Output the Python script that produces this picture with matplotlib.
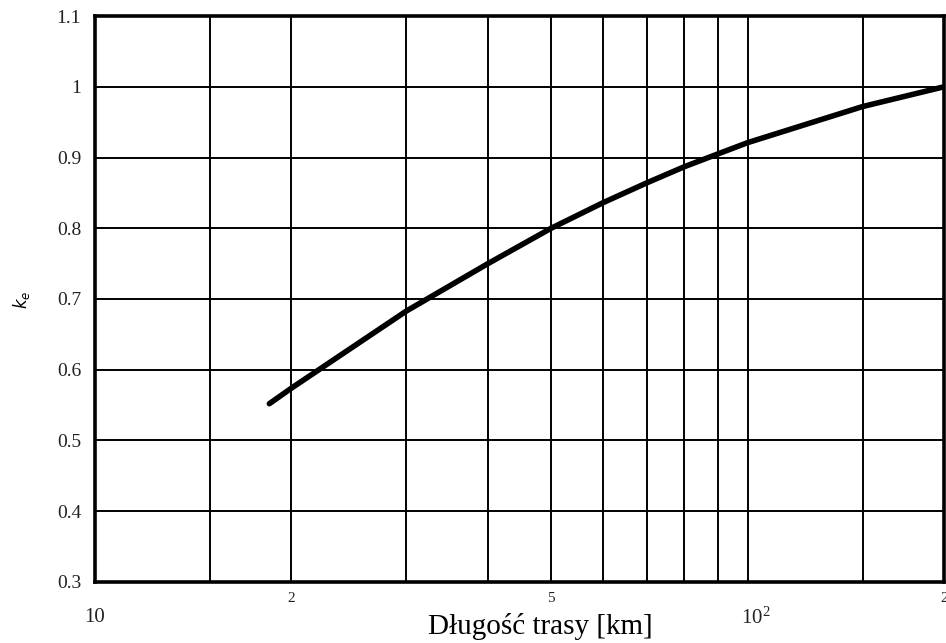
import matplotlib
matplotlib.use("Agg")
import matplotlib.pyplot as plt
import matplotlib.transforms as mtransforms

# Data
dist_km = [18.5, 20, 25, 30, 40, 50, 60, 70, 80, 90, 100, 150, 200]
ke = [0.552, 0.574, 0.634, 0.683, 0.750, 0.800, 0.836, 0.864, 0.887, 0.905, 0.921, 0.972, 1.000]

grid_x = [15, 20, 30, 40, 50, 60, 70, 80, 90, 100, 150, 200]
y_ticks = [0.3, 0.4, 0.5, 0.6, 0.7, 0.8, 0.9, 1.0, 1.1]
y_labels = ["0.3", "0.4", "0.5", "0.6", "0.7", "0.8", "0.9", "1", "1.1"]
x_small_ticks = [20, 50, 200]
x_small_labels = ["2", "5", "2"]
x_big_ticks = [10, 100]
x_big_labels = ["10", "$\\mathregular{10^2}$"]

plt.rcParams['font.family'] = ['Liberation Serif', 'DejaVu Serif']

fig = plt.figure(figsize=(9.46, 6.43), dpi=100)
ax = fig.add_axes([0.1004, 0.0949, 0.8976, 0.8802])
ax.set_xscale('log')
ax.set_xlim(10, 200)
ax.set_ylim(0.3, 1.1)

for gx in grid_x:
    ax.axvline(gx, color='black', lw=1.4, zorder=1)
for gy in y_ticks:
    ax.axhline(gy, color='black', lw=1.4, zorder=1)

ax.plot(dist_km, ke, color='black', lw=4, solid_capstyle='round',
        solid_joinstyle='round', zorder=3)

for s in ax.spines.values():
    s.set_linewidth(2.6)
    s.set_color('black')

ax.set_yticks(y_ticks)
ax.set_yticklabels(y_labels, fontsize=14, color='#222222')
ax.tick_params(axis='y', length=0, pad=10)
ax.set_xticks([])
ax.xaxis.set_minor_locator(matplotlib.ticker.NullLocator())

trans = mtransforms.blended_transform_factory(ax.transData, fig.transFigure)
for xv, lab in zip(x_small_ticks, x_small_labels):
    ax.text(xv, 1 - 598 / 643, lab, transform=trans, ha='center', va='center',
            fontsize=11, color='#222222', clip_on=False)
for xv, lab in zip(x_big_ticks, x_big_labels):
    ax.text(xv * (1.0 if xv == 10 else 1.03), 1 - 618 / 643, lab, transform=trans,
            ha='center', va='center', fontsize=15, color='#222222', clip_on=False)

fig.text(540 / 946, 1 - 627 / 643, "Długość trasy [km]", ha='center', va='center', fontsize=21)
fig.text(21 / 946, 1 - 300 / 643, "$k_e$", rotation=90, ha='center', va='center',
         fontsize=12)

fig.savefig("out.png", dpi=100, facecolor='white')
